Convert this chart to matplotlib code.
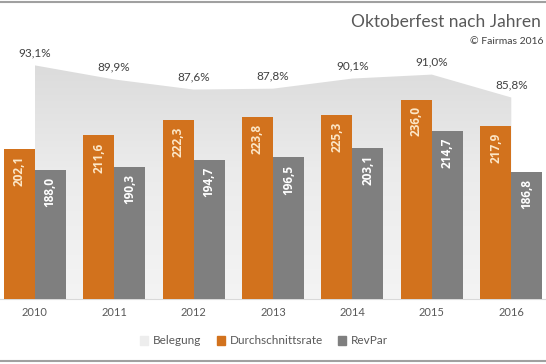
import numpy as np
import matplotlib.pyplot as plt
from matplotlib.colors import LinearSegmentedColormap
from matplotlib.patches import Patch, Polygon
from matplotlib.lines import Line2D

plt.rcParams['font.family'] = ['Lato', 'DejaVu Sans']

years = ['2010', '2011', '2012', '2013', '2014', '2015', '2016']
belegung = [93.1, 89.9, 87.6, 87.8, 90.1, 91.0, 85.8]
rate = [202.1, 211.6, 222.3, 223.8, 225.3, 236.0, 217.9]
revpar = [188.0, 190.3, 194.7, 196.5, 203.1, 214.7, 186.8]

ORANGE = '#D2721D'
GRAY = '#7F7F7F'
TEXT = '#595959'


def de(v, fmt='{:.1f}'):
    return fmt.format(v).replace('.', ',')


fig = plt.figure(figsize=(5.46, 3.64), dpi=100)
ax = fig.add_axes([-5 / 546, 65 / 364, 556 / 546, 264 / 364])
ax2 = ax.twinx()
ax.set_zorder(ax2.get_zorder() + 1)
ax.patch.set_visible(False)

x = np.arange(len(years))

# Belegung area with a soft vertical gradient
verts = [(x[0], 40)] + list(zip(x, belegung)) + [(x[-1], 40)]
poly = Polygon(verts, closed=True, facecolor='none', edgecolor='none')
ax2.add_patch(poly)
cmap = LinearSegmentedColormap.from_list('bel', ['#F4F4F4', '#EBEBEB', '#D7D7D7'])
grad = np.linspace(0, 1, 256).reshape(-1, 1)
im = ax2.imshow(grad, extent=[x[0], x[-1], 40, 100], origin='lower',
                aspect='auto', cmap=cmap, zorder=1)
im.set_clip_path(poly)
for i, p in enumerate(belegung):
    ax2.annotate(de(p) + '%', (x[i], p), xytext=(0, 5), textcoords='offset points',
                 ha='center', va='bottom', fontsize=8.5, color='#404040')
ax2.set_ylim(40, 100)

w = 0.39
ax.bar(x - w / 2, rate, w, color=ORANGE, zorder=3)
ax.bar(x + w / 2, revpar, w, color=GRAY, zorder=3)
lab = dict(textcoords='offset points', rotation=90, ha='center', va='top',
           fontsize=8.5, fontweight='bold', family=['Open Sans', 'DejaVu Sans'], zorder=4)
for i in range(len(years)):
    ax.annotate(de(rate[i]), (x[i] - w / 2, rate[i]), xytext=(0, -5),
                color='#FCE7C8', **lab)
    ax.annotate(de(revpar[i]), (x[i] + w / 2, revpar[i]), xytext=(0, -5),
                color='white', **lab)

ax.set_ylim(100, 280)
ax.set_xlim(-0.5, len(years) - 0.5)
ax2.set_xlim(-0.5, len(years) - 0.5)
ax.set_xticks(x)
ax.set_xticklabels(years)
ax.tick_params(axis='x', length=0, colors=TEXT, labelsize=8, pad=6)
ax.set_yticks([])
ax2.set_yticks([])
for a in (ax, ax2):
    for s in a.spines.values():
        s.set_visible(False)
ax.spines['bottom'].set_visible(True)
ax.spines['bottom'].set_color('#D9D9D9')

handles = [Patch(color='#EDEDED'), Patch(color=ORANGE), Patch(color=GRAY)]
fig.legend(handles, ['Belegung', 'Durchschnittsrate', 'RevPar'], loc='center',
           bbox_to_anchor=(264 / 546, 1 - 341 / 364), ncol=3, frameon=False,
           fontsize=8.5, labelcolor=TEXT, handlelength=0.7, handleheight=0.7,
           handletextpad=0.4, columnspacing=1.3)

fig.text(541 / 546, 1 - 22 / 364, 'Oktoberfest nach Jahren', ha='right', va='center',
         fontsize=12.5, color=TEXT)
fig.text(543 / 546, 1 - 42 / 364, '\u00a9 Fairmas 2016', ha='right', va='center',
         fontsize=7.5, color='#404040')

fig.add_artist(Line2D([0, 1], [1 - 2 / 364, 1 - 2 / 364], color='#A0A0A0', lw=1.5,
                      transform=fig.transFigure))
fig.add_artist(Line2D([0, 1], [3 / 364, 3 / 364], color='#A0A0A0', lw=1.5,
                      transform=fig.transFigure))

fig.savefig('out.png', dpi=100)
